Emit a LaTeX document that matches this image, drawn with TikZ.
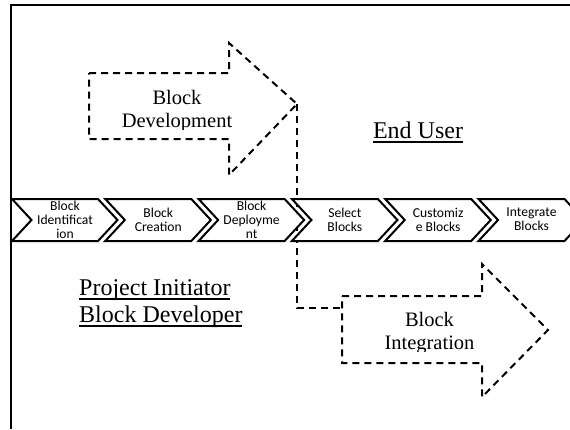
\documentclass[tikz,border=0pt]{standalone}
\usepackage{fontspec}
\setmainfont{Liberation Serif}
\newfontfamily\chevfont{Carlito}
\newcommand\myul[1]{\setbox0\hbox{#1}\rlap{\rule[-4.6pt]{\wd0}{1.3pt}}\box0}
\begin{document}
\begin{tikzpicture}[x=1pt,y=-1pt,
  frameline/.style={line width=1.5pt},
  dashline/.style={line width=2pt,dash pattern=on 7pt off 5pt},
  chevron/.style={line width=2pt,draw=black,fill=white,line join=miter},
  chevtext/.style={font=\chevfont\fontsize{13.6}{14}\selectfont,align=center,inner sep=0pt},
  bigtext/.style={font=\fontsize{20.5}{23.5}\selectfont,align=center,inner sep=0pt,anchor=base},
  roletext/.style={font=\fontsize{24}{27}\selectfont,inner sep=0pt,anchor=base}]
\useasboundingbox (0,0) rectangle (570,429);
\fill[white] (0,0) rectangle (570,429);
% frame
\draw[frameline] (570,5) -- (11,5) -- (11,429);
% dashed arrows
\draw[dashline] (89,73) -- (229,73) -- (229,43) -- (297,104) -- (229,175) -- (229,139) -- (89,139) -- cycle;
\draw[dashline] (342,296) -- (482,296) -- (482,264) -- (548,330) -- (482,397) -- (482,363) -- (342,363) -- cycle;
\coordinate (devtip) at (297,104);
\coordinate (intleft) at (342,308);
\draw[dashline] (devtip) |- (intleft);
% arrow texts (clipped like the original text boxes)
\begin{scope}
\clip (80,60) rectangle (300,129.5);
\node[bigtext] (dev) at (177,127.5) {Block\\Development};
\end{scope}
\begin{scope}
\clip (330,280) rectangle (550,351.5);
\node[bigtext] (integ) at (429.5,349.5) {Block\\Integration};
\end{scope}
% role labels
\node[roletext] (enduser) at (418,138) {\myul{End User}};
\node[roletext,anchor=base west,align=left] (initiator) at (79,322) {\myul{Project Initiator}\\\myul{Block Developer}};
% chevrons
\foreach \L/\nm/\txt in {12/c1/{Block\\Identificat\\ion},105.3/c2/{Block\\Creation},198.6/c3/{Block\\Deployme\\nt},291.9/c4/{Select\\Blocks},385.2/c5/{Customiz\\e Blocks},478.5/c6/{Integrate\\Blocks}}{
  \draw[chevron] (\L,199) -- ++(86,0) -- ++(19.5,21) -- ++(-19.5,21) -- ++(-86,0) -- ++(19.5,-21) -- cycle;
  \node[chevtext] (\nm) at (\L+53,219.5) {\txt};
}
\end{tikzpicture}
\end{document}
